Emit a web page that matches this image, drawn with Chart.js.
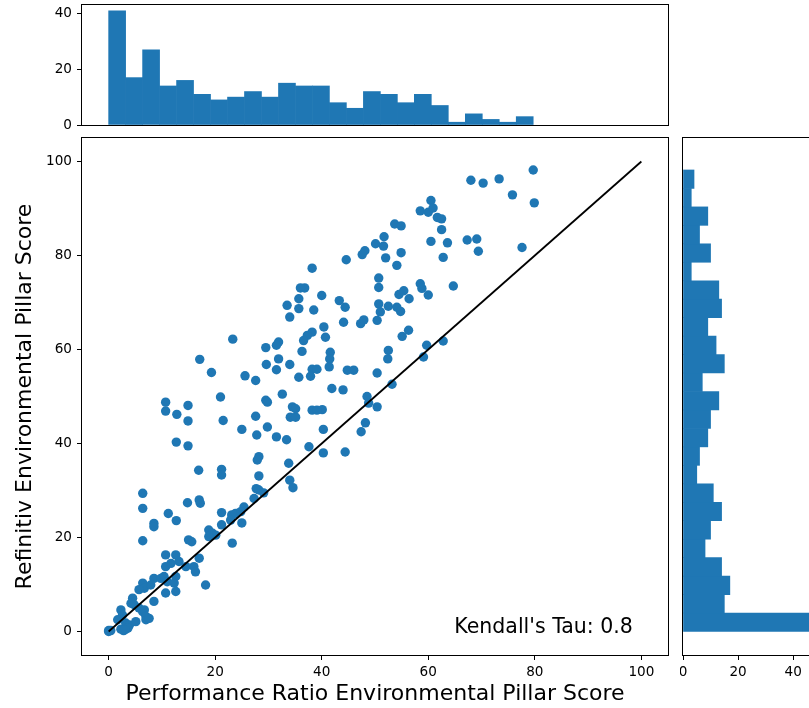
<!DOCTYPE html>
<html>
<head>
<meta charset="utf-8">
<script src="https://cdn.jsdelivr.net/npm/chart.js@4.4.0/dist/chart.umd.min.js"></script>
<style>
  html, body { margin: 0; padding: 0; background: #fff; overflow: hidden; width: 809px; height: 708px; }
  canvas { position: absolute; }
  #histX { left: 0; top: 0; }
  #scatter { left: 0; top: 130px; }
  #histY { left: 680px; top: 130px; }
</style>
</head>
<body>
<canvas id="histX" width="680" height="130"></canvas>
<canvas id="scatter" width="680" height="578"></canvas>
<canvas id="histY" width="145" height="578"></canvas>
<script>
// scatter points: x = Performance Ratio score, y = Refinitiv score
const perfX = [
  79.7, 68.0, 70.3, 73.3, 75.8, 79.9, 60.5, 58.5, 60.0, 60.9, 61.7, 62.5, 62.5, 53.7, 54.9, 51.7, 50.1, 51.6, 60.5, 63.6,
  67.3, 69.1, 69.4, 77.6, 48.1, 47.6, 54.9, 52.0, 62.8, 44.6, 54.1, 38.2, 50.7, 50.7, 58.5, 58.8, 60.0, 64.7, 54.5, 55.4,
  56.4, 36.8, 36.0, 40.0, 43.3, 44.4, 50.7, 52.5, 54.1, 38.5,
  35.7, 33.5, 35.7, 34.0, 44.1, 51.0, 50.4, 54.8, 47.3, 47.9, 56.3, 55.1, 38.2, 37.3, 36.6, 40.4, 40.7, 31.9, 31.5, 29.5,
  36.3, 41.6, 41.5, 41.4, 31.9, 29.6, 34.0, 31.5, 38.2, 39.1, 37.9, 35.7, 44.8, 46.0, 50.4, 52.5, 52.4, 59.7, 62.8, 59.1,
  53.2, 41.9, 44.0, 32.6, 29.5, 29.8, 48.5, 50.4, 48.8, 34.5, 34.1, 35.1, 38.2, 40.1, 29.8, 40.3, 48.2, 47.4, 31.5, 33.4,
  37.6, 40.3, 44.4, 33.8, 35.1, 39.1,
  10.7, 10.7, 14.9, 12.8, 14.9, 21.0, 21.5, 12.7, 14.9, 25.0, 27.8, 27.6, 28.2, 27.9, 28.2, 27.7, 28.2, 34.0, 34.6, 29.1,
  27.3, 23.2, 25.0, 25.4, 21.2, 23.1, 23.8, 21.2, 18.8, 19.5, 20.1, 15.0, 15.6, 17.0, 17.2, 14.8, 11.2, 12.7, 8.5, 8.5,
  6.4, 6.4, 6.4,
  16.9, 21.2, 21.2, 22.9, 24.8, 18.8,
  23.3, 17.1, 19.3, 25.6, 27.6,
  10.7, 12.6, 13.2, 10.7, 11.7, 14.5, 16.0, 16.3, 18.2, 8.5, 9.8, 10.4, 11.0, 12.6, 12.3, 6.4, 6.7, 5.7, 7.9, 10.7,
  12.6, 8.5, 4.5, 4.2, 4.8, 5.7, 6.4, 6.7, 7.0, 7.0, 2.3, 2.6, 1.7, 3.2, 3.9, 3.6, 5.1, 7.6, 17.0,
  0, 0, 0.4, 2.3, 2.8, 3.1
];
const refY = [
  98.2, 96.0, 95.4, 96.3, 92.9, 91.2, 91.7, 89.5, 89.2, 90.1, 88.1, 87.8, 85.5, 86.7, 86.3, 84.0, 82.5, 82.0, 83.0, 82.7,
  83.3, 83.5, 80.9, 81.7, 81.0, 80.2, 80.6, 79.5, 79.6, 79.1, 77.9, 77.3, 75.2, 73.2, 74.0, 73.0, 71.6, 73.5, 71.7, 72.5,
  70.8, 73.1, 73.1, 71.5, 70.4, 69.0, 69.7, 69.2, 69.0, 68.4,
  70.8, 69.4, 68.7, 66.9, 65.8, 68.0, 66.2, 68.1, 65.5, 66.3, 64.1, 62.8, 63.7, 63.0, 61.9, 64.8, 62.6, 61.6, 60.9, 60.4,
  59.6, 59.4, 58.0, 56.3, 58.0, 56.8, 56.8, 55.7, 55.8, 55.8, 54.3, 54.1, 55.6, 55.6, 55.0, 59.8, 58.0, 60.9, 61.8, 58.4,
  52.6, 51.7, 51.4, 50.5, 49.2, 48.8, 50.0, 47.8, 48.6, 47.8, 45.6, 45.6, 47.1, 47.2, 43.5, 43.0, 44.4, 42.5, 41.4, 40.8,
  39.3, 38.0, 38.2, 35.8, 47.4, 47.1,
  48.8, 46.9, 48.1, 46.2, 44.8, 49.9, 44.9, 40.3, 39.5, 43.0, 41.8, 45.8, 37.2, 36.5, 33.1, 30.4, 30.1, 32.2, 30.6, 29.5,
  28.3, 18.8, 23.1, 26.5, 25.3, 24.8, 25.1, 22.7, 21.6, 20.9, 20.5, 19.5, 19.1, 28.0, 27.3, 27.4, 25.1, 23.6, 23.0, 22.3,
  29.4, 26.2, 19.3,
  34.3, 34.5, 33.3, 23.7, 25.5, 20.2,
  62.2, 57.9, 55.1, 54.4, 53.4,
  16.3, 16.3, 14.9, 13.8, 14.5, 13.8, 13.8, 12.7, 9.9, 11.3, 11.3, 11.7, 10.6, 11.7, 10.3, 10.3, 9.2, 8.9, 9.9, 8.2,
  8.5, 6.4, 7.1, 6.0, 5.7, 5.0, 4.2, 4.6, 3.2, 2.5, 4.6, 3.5, 2.5, 1.8, 1.4, 0.7, 2.1, 2.8, 15.6,
  0, 0.2, 0.2, 0.5, 0.2, 0.4
];

// marginal histograms (25 bins each)
const xBinEdges = [0, 3.19, 6.38, 9.56, 12.75, 15.94, 19.13, 22.32, 25.5, 28.69, 31.88, 35.07, 38.26,
  41.44, 44.63, 47.82, 51.01, 54.2, 57.38, 60.57, 63.76, 66.95, 70.14, 73.32, 76.51, 79.7];
const xBinCounts = [41, 17, 27, 14, 16, 11, 9, 10, 12, 10, 15, 14, 14, 8, 6, 12, 11, 8, 11, 7, 1, 4, 2, 1, 3];

const yBinEdges = [0, 3.93, 7.86, 11.78, 15.71, 19.64, 23.57, 27.5, 31.42, 35.35, 39.28, 43.21, 47.14,
  51.06, 54.99, 58.92, 62.85, 66.78, 70.7, 74.63, 78.56, 82.49, 86.42, 90.34, 94.27, 98.2];
const yBinCounts = [47, 15, 17, 14, 8, 10, 14, 11, 5, 6, 9, 10, 13, 7, 15, 12, 9, 14, 13, 3, 10, 6, 9, 3, 4];

const refLine = [0, 100];
const mainTicks = [0, 20, 40, 60, 80, 100];
const histXTicks = [0, 20, 40];
const histYTicks = [0, 20, 40];
const tauLabel = "Kendall's Tau: 0.8";
const xTitle = "Performance Ratio Environmental Pillar Score";
const yTitle = "Refinitiv Environmental Pillar Score";

const BLUE = "#1f77b4";
const FONT = "DejaVu Sans";
Chart.defaults.font.family = FONT;
Chart.defaults.color = "#000";

const framePlugin = {
  id: "frame",
  afterDatasetsDraw(chart) {
    const a = chart.chartArea;
    const ctx = chart.ctx;
    ctx.save();
    ctx.strokeStyle = "#000";
    ctx.lineWidth = 1;
    ctx.strokeRect(Math.round(a.left) - 0.5, Math.round(a.top) - 0.5,
      Math.round(a.right - a.left) + 1, Math.round(a.bottom - a.top) + 1);
    ctx.restore();
  },
};

function fixedTicks(values) {
  return (scale) => { scale.ticks = values.map((v) => ({ value: v })); };
}

// fixed axis sizes, no extra room for edge labels
function fitY(width) {
  return (s) => { s.width = width; s.paddingTop = 0; s.paddingBottom = 0; };
}
function fitX(height) {
  return (s) => { s.height = height; s.paddingLeft = 0; s.paddingRight = 0; };
}

function tickGrid() {
  return { display: true, drawOnChartArea: false, drawTicks: true, tickLength: 5, tickColor: "#000", tickWidth: 1 };
}

function binCenters(edges) {
  const out = [];
  for (let i = 0; i < edges.length - 1; i++) out.push((edges[i] + edges[i + 1]) / 2);
  return out;
}

function buildHistX(ctx) {
  const centers = binCenters(xBinEdges);
  return new Chart(ctx, {
    type: "bar",
    data: {
      datasets: [{
        data: xBinCounts.map((c, i) => ({ x: centers[i], y: c })),
        backgroundColor: BLUE,
        borderWidth: 0,
        barPercentage: 1,
        categoryPercentage: 1,
        grouped: false,
      }],
    },
    options: {
      responsive: false,
      animation: false,
      layout: { padding: { top: 5, right: 12, bottom: 5, left: 0 } },
      plugins: { legend: { display: false }, tooltip: { enabled: false } },
      scales: {
        x: { type: "linear", display: false, min: -5, max: 105, offset: false, afterBuildTicks: fixedTicks(mainTicks) },
        y: {
          min: 0, max: 43.05,
          afterBuildTicks: fixedTicks(histXTicks),
          afterFit: fitY(82),
          grid: tickGrid(),
          border: { display: false },
          ticks: { font: { size: 13.6 }, padding: 5, color: "#000" },
        },
      },
    },
    plugins: [framePlugin],
  });
}

function buildHistY(ctx) {
  const centers = binCenters(yBinEdges);
  return new Chart(ctx, {
    type: "bar",
    data: {
      datasets: [{
        data: yBinCounts.map((c, i) => ({ x: c, y: centers[i] })),
        backgroundColor: BLUE,
        borderWidth: 0,
        barPercentage: 1,
        categoryPercentage: 1,
        grouped: false,
      }],
    },
    options: {
      indexAxis: "y",
      responsive: false,
      animation: false,
      layout: { padding: { top: 8, right: 6, bottom: 0, left: 3 } },
      plugins: { legend: { display: false }, tooltip: { enabled: false } },
      scales: {
        y: { type: "linear", display: false, min: -5, max: 105, offset: false, afterBuildTicks: fixedTicks(mainTicks) },
        x: {
          type: "linear",
          min: 0, max: 49.35,
          afterBuildTicks: fixedTicks(histYTicks),
          afterFit: fitX(53),
          grid: tickGrid(),
          border: { display: false },
          ticks: { font: { size: 13.6 }, padding: 4, color: "#000" },
        },
      },
    },
    plugins: [framePlugin],
  });
}

const tauPlugin = {
  id: "tau",
  afterDraw(chart) {
    const a = chart.chartArea;
    const ctx = chart.ctx;
    ctx.save();
    ctx.font = "20.5px " + FONT;
    ctx.fillStyle = "#000";
    ctx.textAlign = "right";
    ctx.textBaseline = "alphabetic";
    ctx.fillText(tauLabel, a.left + (a.right - a.left) * 0.94, a.bottom - 22);
    ctx.restore();
  },
};

function buildScatter(ctx) {
  return new Chart(ctx, {
    type: "scatter",
    data: {
      datasets: [
        {
          data: refLine.map((v) => ({ x: v, y: v })),
          showLine: true,
          borderColor: "#000",
          borderWidth: 1.8,
          pointRadius: 0,
          order: 0,
        },
        {
          data: perfX.map((x, i) => ({ x, y: refY[i] })),
          backgroundColor: BLUE,
          borderWidth: 0,
          pointRadius: 4.7,
          order: 1,
        },
      ],
    },
    options: {
      responsive: false,
      animation: false,
      layout: { padding: { top: 8, right: 12, bottom: 0, left: 0 } },
      plugins: { legend: { display: false }, tooltip: { enabled: false } },
      scales: {
        x: {
          min: -5, max: 105,
          afterBuildTicks: fixedTicks(mainTicks),
          afterFit: fitX(53),
          grid: tickGrid(),
          border: { display: false },
          ticks: { font: { size: 13.6 }, padding: 4, color: "#000" },
          title: { display: true, text: xTitle, font: { size: 22 }, color: "#000", padding: { top: 0, bottom: 1 } },
        },
        y: {
          min: -5, max: 105,
          afterBuildTicks: fixedTicks(mainTicks),
          afterFit: fitY(82),
          grid: tickGrid(),
          border: { display: false },
          ticks: { font: { size: 13.6 }, padding: 5, color: "#000" },
          title: { display: true, text: yTitle, font: { size: 22 }, color: "#000", padding: { top: 12, bottom: 0 } },
        },
      },
    },
    plugins: [framePlugin, tauPlugin],
  });
}

buildHistX(document.getElementById("histX"));
buildScatter(document.getElementById("scatter"));
buildHistY(document.getElementById("histY"));
</script>
</body>
</html>
